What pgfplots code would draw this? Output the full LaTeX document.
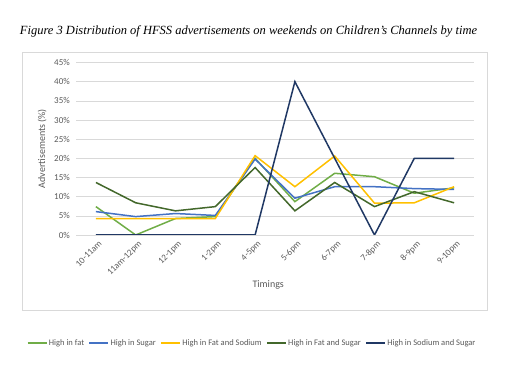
\documentclass[border=0pt]{standalone}
\usepackage{fontspec}
\setmainfont{Carlito}
\newfontfamily\titlefont{Liberation Serif}
\usepackage{pgfplots}
\pgfplotsset{compat=1.18}
\definecolor{cfat}{HTML}{70AD47}
\definecolor{csugar}{HTML}{4472C4}
\definecolor{cfatsod}{HTML}{FFC000}
\definecolor{cfatsug}{HTML}{43682B}
\definecolor{csodsug}{HTML}{203864}
\definecolor{gridc}{HTML}{D9D9D9}
\definecolor{txt}{HTML}{595959}
\begin{document}
\begin{tikzpicture}[x=1pt,y=1pt]
\useasboundingbox (0,0) rectangle (511,379);
\draw[gridc, line width=0.6pt] (22,69) rectangle (487,327);
\node[font=\titlefont\itshape\fontsize{12.5}{14}\selectfont, anchor=center] at (248.5,348) {Figure 3 Distribution of HFSS advertisements on weekends on Children’s Channels by time};
\begin{axis}[
  scale only axis,
  width=398pt, height=172.5pt,
  at={(76pt,144pt)}, anchor=south west,
  xmin=-0.5, xmax=9.5, ymin=0, ymax=45,
  xtick={0,...,9},
  xticklabels={10-11am,11am-12pm,12-1pm,1-2pm,4-5pm,5-6pm,6-7pm,7-8pm,8-9pm,9-10pm},
  ytick={0,5,...,45},
  yticklabel={\pgfmathprintnumber{\tick}\%},
  /pgf/number format/assume math mode=true,
  ymajorgrids,
  grid style={gridc, line width=0.6pt},
  axis line style={draw=none},
  tick style={draw=none},
  ticklabel style={font=\fontsize{9}{10}\selectfont, text=txt},
  xticklabel style={rotate=45, anchor=north east, inner sep=1pt, xshift=-1pt, yshift=-4pt},
  yticklabel style={inner sep=2pt, xshift=-4pt},
  xlabel={Timings},
  ylabel={Advertisements (\%)},
  label style={font=\fontsize{10}{12}\selectfont, text=txt},
  xlabel style={at={(axis description cs:0.483,-0.29)}, anchor=center},
  ylabel style={at={(axis description cs:-0.085,0.5)}, anchor=center, rotate=0},
  legend columns=5,
  legend style={at={(axis description cs:0.442,-0.626)}, anchor=center, draw=none, fill=none,
    font=\fontsize{8.5}{10}\selectfont, text=txt,
    /tikz/every odd column/.append style={column sep=0pt},
    /tikz/every even column/.append style={column sep=3pt},
    nodes={inner sep=1.5pt}},
  legend image code/.code={\draw[#1, line width=1.5pt] (0pt,0pt) -- (19pt,0pt);},
  every axis plot/.append style={line width=1.5pt, mark=none, line join=miter},
]
\addplot[cfat] coordinates {(0,7.4) (1,0) (2,4.3) (3,4.8) (4,20.0) (5,8.7) (6,16.1) (7,15.2) (8,10.9) (9,12.3)};
\addlegendentry{High in fat}
\addplot[csugar] coordinates {(0,6.1) (1,4.8) (2,5.6) (3,5.1) (4,19.8) (5,9.6) (6,12.6) (7,12.6) (8,12.1) (9,11.9)};
\addlegendentry{High in Sugar}
\addplot[cfatsod] coordinates {(0,4.3) (1,4.3) (2,4.3) (3,4.3) (4,20.7) (5,12.6) (6,20.6) (7,8.3) (8,8.4) (9,12.6)};
\addlegendentry{High in Fat and Sodium}
\addplot[cfatsug] coordinates {(0,13.7) (1,8.4) (2,6.3) (3,7.4) (4,17.6) (5,6.3) (6,13.7) (7,7.4) (8,11.3) (9,8.4)};
\addlegendentry{High in Fat and Sugar}
\addplot[csodsug] coordinates {(0,0) (1,0) (2,0) (3,0) (4,0) (5,40) (6,20) (7,0) (8,20) (9,20)};
\addlegendentry{High in Sodium and Sugar}
\end{axis}
\end{tikzpicture}
\end{document}
